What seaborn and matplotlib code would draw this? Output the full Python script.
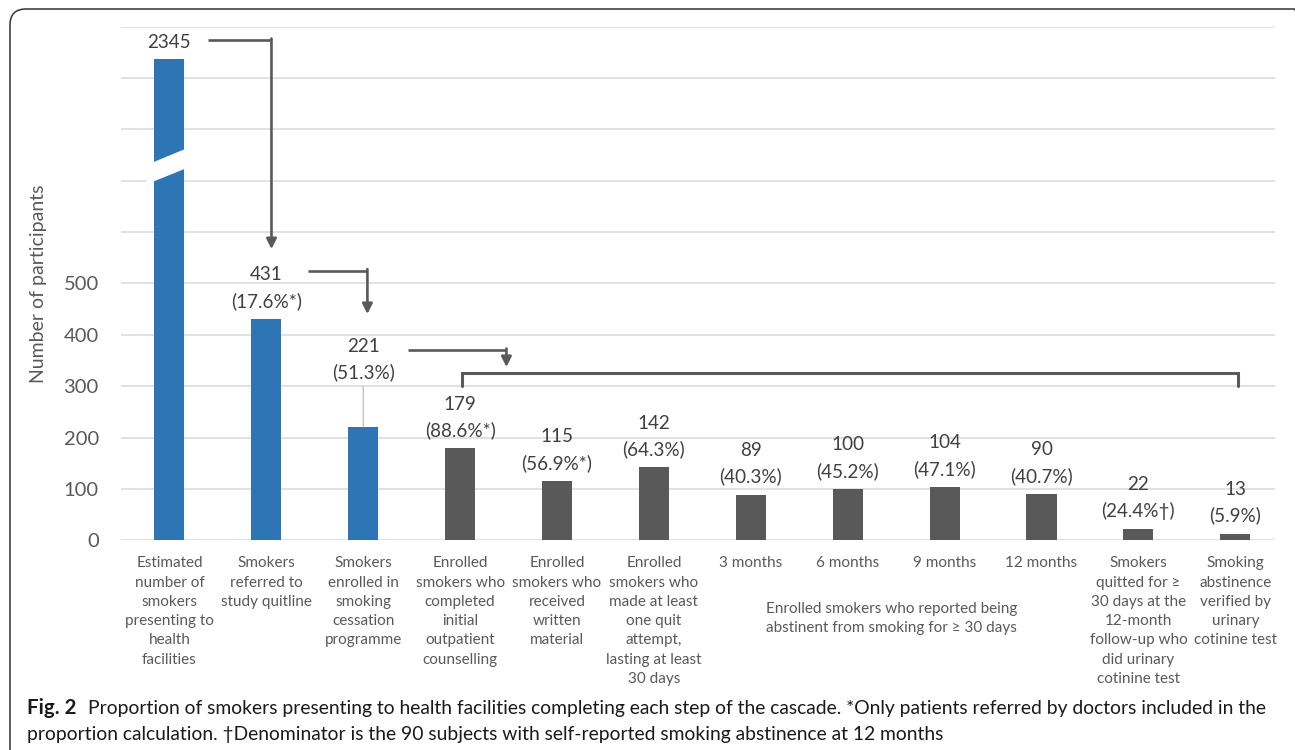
import numpy as np
import pandas as pd
import matplotlib
matplotlib.use("Agg")
import matplotlib.pyplot as plt
from matplotlib import font_manager
from matplotlib.patches import FancyBboxPatch, Polygon
from matplotlib.transforms import IdentityTransform
from matplotlib.ticker import FixedLocator, NullFormatter
import seaborn as sns

# ---- data -------------------------------------------------------------
steps = [
    "Estimated\nnumber of\nsmokers\npresenting to\nhealth\nfacilities",
    "Smokers\nreferred to\nstudy quitline",
    "Smokers\nenrolled in\nsmoking\ncessation\nprogramme",
    "Enrolled\nsmokers who\ncompleted\ninitial\noutpatient\ncounselling",
    "Enrolled\nsmokers who\nreceived\nwritten\nmaterial",
    "Enrolled\nsmokers who\nmade at least\none quit\nattempt,\nlasting at least\n30 days",
    "3 months",
    "6 months",
    "9 months",
    "12 months",
    "Smokers\nquitted for \u2265\n30 days at the\n12-month\nfollow-up who\ndid urinary\ncotinine test",
    "Smoking\nabstinence\nverified by\nurinary\ncotinine test",
]
counts = [2345, 431, 221, 179, 115, 142, 89, 100, 104, 90, 22, 13]
percents = ["", "17.6%*", "51.3%", "88.6%*", "56.9%*", "64.3%", "40.3%",
            "45.2%", "47.1%", "40.7%", "24.4%\u2020", "5.9%"]
stage = ["referral"] * 3 + ["programme"] * 9
yticks = [0, 100, 200, 300, 400, 500]
group_label = "Enrolled smokers who reported being\nabstinent from smoking for \u2265 30 days"
caption_bold = "Fig. 2"
caption_line1 = ("Proportion of smokers presenting to health facilities completing each step "
                 "of the cascade. *Only patients referred by doctors included in the")
caption_line2 = ("proportion calculation. \u2020Denominator is the 90 subjects with "
                 "self-reported smoking abstinence at 12 months")

df = pd.DataFrame({"step": steps, "count": counts, "stage": stage})


def pick_font(names):
    for n in names:
        try:
            font_manager.findfont(font_manager.FontProperties(family=n),
                                  fallback_to_default=False)
            return n
        except Exception:
            continue
    return "DejaVu Sans"


sns.set_theme(style="white")
chart_font = pick_font(["Lato", "Open Sans"])
caption_font = pick_font(["Lato"])
plt.rcParams["font.family"] = [chart_font, "DejaVu Sans"]

BLUE = "#2E75B6"
GRAY = "#595959"
TXT = "#404040"
TICK = "#595959"
GRID = "#D9D9D9"

# broken value axis: linear up to 700, compressed above
BREAK = 700.0
K = 0.1441


def fwd(v):
    v = np.asarray(v, dtype=float)
    return np.where(v <= BREAK, v, BREAK + (v - BREAK) * K)


def inv(u):
    u = np.asarray(u, dtype=float)
    return np.where(u <= BREAK, u, BREAK + (u - BREAK) / K)


fig = plt.figure(figsize=(12.95, 7.5), dpi=100)
ax = fig.add_axes([121 / 1295, 1 - 540.3 / 750, 1154 / 1295, 513.6 / 750])
ax.set_yscale("function", functions=(fwd, inv))

sns.barplot(data=df, x="step", y="count", hue="stage", order=steps,
            palette={"referral": BLUE, "programme": GRAY}, dodge=False,
            saturation=1, width=0.31, linewidth=0, legend=False, ax=ax, zorder=3)

top = float(inv(1000))
ax.set_ylim(0, top)
ax.set_xlim(-0.5, 11.41)
ax.yaxis.set_major_locator(FixedLocator(yticks))
ax.yaxis.set_minor_locator(FixedLocator(list(inv([600, 700, 800, 900, 1000]))))
ax.yaxis.set_minor_formatter(NullFormatter())
ax.set_yticklabels([str(t) for t in yticks])
ax.grid(True, axis="y", which="both", color=GRID, lw=1.1, zorder=0)
ax.grid(False, axis="x")
ax.set_axisbelow(True)
for s in ax.spines.values():
    s.set_visible(False)

ax.set_xticks(range(len(steps)))
ax.set_xticklabels(steps, fontsize=11, color=TICK, linespacing=1.48)
ax.tick_params(axis="x", length=0, pad=11.5)
ax.tick_params(axis="y", which="both", length=0, pad=16, labelsize=14.5,
               labelcolor=TICK)
ax.set_xlabel("")
ax.set_ylabel("Number of participants", fontsize=14, color=TICK, labelpad=12)

# value labels above the bars
for i, (c, p) in enumerate(zip(counts, percents)):
    text = f"{c}" if not p else f"{c}\n({p})"
    off = 17 if not p else 31
    kw = {}
    if i == 2:
        off += 36
        kw["arrowprops"] = dict(arrowstyle="-", color="#BFBFBF", lw=0.9,
                                shrinkA=1, shrinkB=0)
    ax.annotate(text, xy=(i, c), xytext=(0, off), textcoords="offset pixels",
                ha="center", va="center", fontsize=13.6, color=TXT,
                linespacing=1.58, zorder=5, **kw)

# break marker across the tallest bar
xt = ax.get_xaxis_transform()
ax.add_patch(Polygon([(-0.237, 0.7307), (0.186, 0.7638), (0.186, 0.7253),
                      (-0.237, 0.6931)], closed=True, transform=xt,
                     facecolor="white", edgecolor="none", zorder=4))

# cascade connectors
ARW = "#595959"


def connector(x0, x1, y, y_tip):
    ax.plot([x0, x1], [y, y], transform=xt, color=ARW, lw=1.9,
            solid_capstyle="butt", clip_on=False, zorder=5)
    ax.annotate("", xy=(x1, y_tip), xytext=(x1, y + 0.003), xycoords=xt,
                textcoords=xt,
                arrowprops=dict(arrowstyle="-|>,head_length=0.6,head_width=0.3",
                                color=ARW, lw=1.9, shrinkA=0, shrinkB=0,
                                mutation_scale=10), zorder=5)


connector(0.40, 1.053, 0.974, 0.567)
connector(1.434, 2.043, 0.525, 0.4406)
connector(2.466, 3.478, 0.3705, 0.3374)

ax.plot([3.024, 3.024, 11.03, 11.03], [0.3004, 0.3252, 0.3252, 0.3004],
        transform=xt, color=ARW, lw=2.2, solid_joinstyle="miter", zorder=5)

ax.text(7.45, -0.152, group_label, transform=xt, ha="center", va="center",
        fontsize=11, color=TICK, linespacing=1.48)

# caption
fig.text(27 / 1295, 1 - 714 / 750, caption_bold, family=[caption_font, "DejaVu Sans"],
         fontweight="bold", fontsize=14.8, color="#1a1a1a", va="baseline")
fig.text(88 / 1295, 1 - 714 / 750, caption_line1, family=[caption_font, "DejaVu Sans"],
         fontsize=13.85, color="#1a1a1a", va="baseline")
fig.text(27 / 1295, 1 - 740 / 750, caption_line2, family=[caption_font, "DejaVu Sans"],
         fontsize=13.85, color="#1a1a1a", va="baseline")

# rounded frame
frame = FancyBboxPatch((10, -30), 1300, 771, boxstyle="round,pad=0,rounding_size=16",
                       transform=IdentityTransform(), facecolor="none",
                       edgecolor="#333333", lw=1.1)
fig.add_artist(frame)

fig.savefig("out.png", dpi=100)
